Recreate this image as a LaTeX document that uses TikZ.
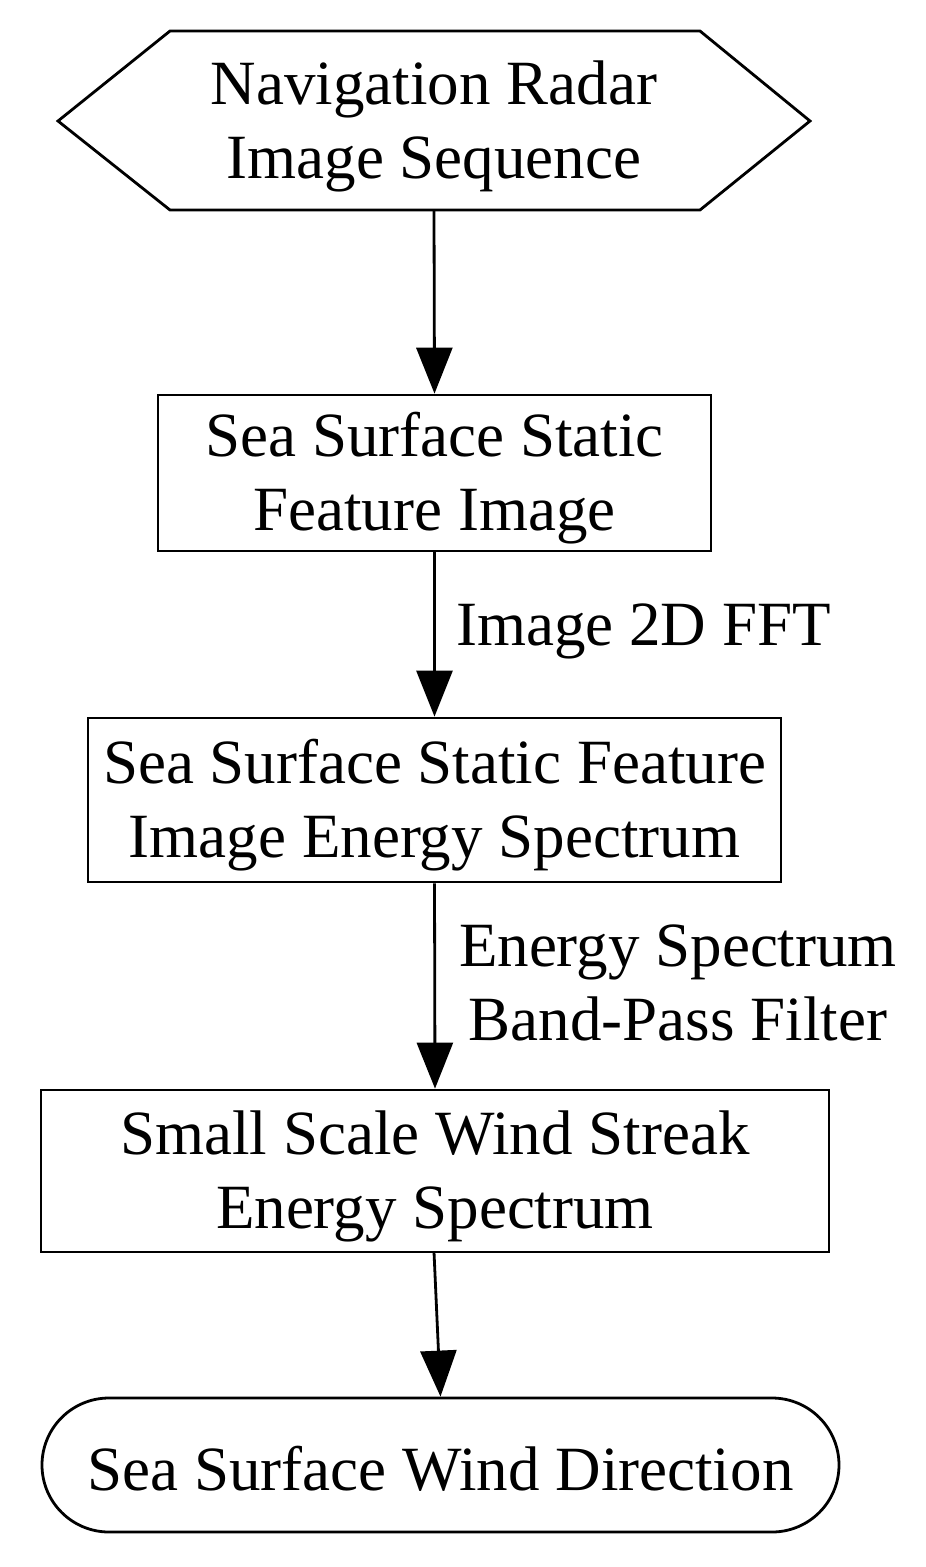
\documentclass[tikz,border=0pt]{standalone}
\usepackage{fontspec}
\setmainfont{Liberation Serif}
\usetikzlibrary{arrows.meta}
\begin{document}
\begin{tikzpicture}[x=1pt,y=-1pt,
  every node/.style={font=\fontsize{63}{74}\selectfont, align=center, inner sep=0pt},
  box/.style={draw, line width=2.8pt, rectangle},
  flow/.style={line width=2.8pt, -{Triangle[length=46pt,width=36pt]}},
  lbl/.style={}
]
\useasboundingbox (0,0) rectangle (926,1567);
% hexagon
\draw[line width=2.8pt, line join=miter] (58,121) -- (170,31) -- (700,31) -- (810,121) -- (700,210) -- (170,210) -- cycle;
\node (n1) at (434,126) {Navigation Radar\\Image Sequence};
\coordinate (n1b) at (434,210);
\node[box, minimum width=553pt, minimum height=156pt] (n2) at (434.5,473) {};
\node (t2) at (434.5,478) {Sea Surface Static\\Feature Image};
\node[box, minimum width=693pt, minimum height=164pt] (n3) at (434.5,800) {};
\node (t3) at (434.5,805) {Sea Surface Static Feature\\Image Energy Spectrum};
\node[box, minimum width=788pt, minimum height=162pt] (n4) at (435,1171) {};
\node (t4) at (435,1176) {Small Scale Wind Streak\\Energy Spectrum};
\node[box, rounded corners=67pt, minimum width=797pt, minimum height=134pt] (n5) at (440.5,1465) {};
\node (t5) at (440.5,1469) {Sea Surface Wind Direction};
\draw[flow] (n1b) -- (n2.north);
\draw[flow] (n2.south) -- (n3.north);
\draw[flow] (n3.south) -- (n4.north);
\draw[flow] (434,1252) coordinate (s4) -- (n5.north);
\node[lbl, anchor=west] (l1) at (456,631) {Image 2D FFT};
\node[lbl] (l2) at (678,983) {Energy Spectrum\\Band-Pass Filter};
\end{tikzpicture}
\end{document}
